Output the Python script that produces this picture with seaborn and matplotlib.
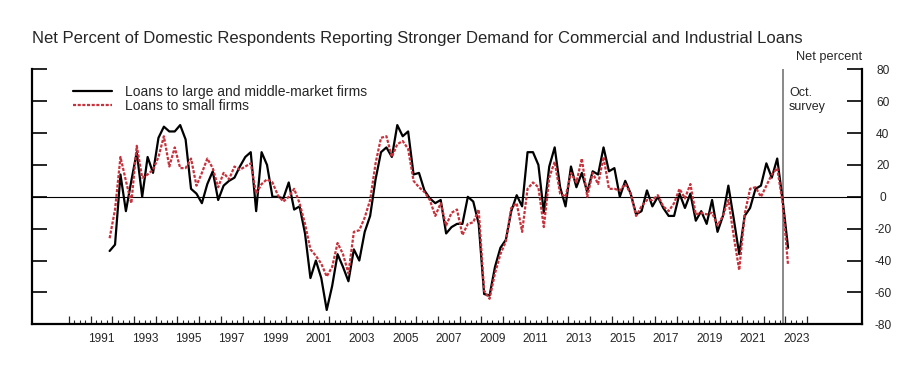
import matplotlib
matplotlib.use("Agg")
import matplotlib.pyplot as plt
import numpy as np
import pandas as pd
import seaborn as sns

# quarterly survey readings (net percent), 1991Q4 .. 2023Q1
large_firms = [
    -34, -30, 14, -9, 10, 28, 0, 25, 15, 37, 44, 41, 41, 45, 36, 5,
    2, -4, 8, 16, -2, 7, 10, 12, 19, 25, 28, -9, 28, 20, 0, 0,
    -1, 9, -8, -6, -23, -51, -40, -51, -71, -56, -36, -44, -53, -33, -40, -22,
    -12, 11, 28, 31, 25, 45, 38, 41, 14, 15, 4, -1, -4, -2, -23, -19,
    -17, -17, 0, -3, -17, -61, -62, -44, -32, -27, -9, 1, -6, 28, 28, 20,
    -10, 19, 31, 6, -6, 19, 6, 15, 3, 16, 14, 31, 16, 18, 0, 10,
    2, -11, -9, 4, -6, 0, -7, -12, -12, 2, -7, 2, -15, -9, -17, -2,
    -22, -12, 7, -14, -36, -12, -7, 5, 7, 21, 12, 24, -2, -32,
]
small_firms = [
    -26, -8, 25, 10, -4, 32, 12, 14, 17, 25, 38, 19, 31, 18, 18, 24,
    7, 15, 24, 18, 6, 15, 11, 19, 17, 19, 21, 2, 8, 11, 9, 1,
    -3, 0, 5, -4, -17, -33, -37, -42, -50, -44, -29, -36, -48, -22, -21, -13,
    -2, 21, 37, 38, 25, 33, 35, 30, 10, 6, 3, -2, -12, -4, -18, -10,
    -8, -24, -17, -16, -8, -59, -64, -48, -36, -28, -7, -4, -22, 5, 9, 6,
    -19, 12, 22, 2, 0, 15, 9, 24, 0, 15, 8, 25, 5, 5, 4, 8,
    2, -12, -6, -2, -2, 1, -6, -9, -4, 5, -1, 8, -11, -10, -11, -10,
    -18, -12, -2, -25, -46, -11, 5, 6, 0, 7, 14, 18, -4, -43,
]
series_names = ["Loans to large and middle-market firms", "Loans to small firms"]
year_labels = list(range(1991, 2024, 2))
y_ticks = list(range(-80, 81, 20))

quarters = pd.period_range("1991Q4", periods=len(large_firms), freq="Q")
x = np.asarray(quarters.year + (quarters.quarter - 1) / 4 + 0.125, dtype=float)
survey_mark = x[-2]  # October survey

df = pd.DataFrame({
    "date": np.concatenate([x, x]),
    "value": large_firms + small_firms,
    "series": [series_names[0]] * len(x) + [series_names[1]] * len(x),
})

sns.set_style("white")
plt.rcParams["font.family"] = ["Liberation Sans", "DejaVu Sans"]
plt.rcParams["axes.unicode_minus"] = False

fig = plt.figure(figsize=(9.22, 3.72), dpi=100)
ax = fig.add_axes([32 / 922, 1 - 324.3 / 372, 830 / 922, 255 / 372])

red = "#C8323C"
ax.axhline(0, color="black", lw=0.8, zorder=1)
ax.axvline(survey_mark, color="#808080", lw=1.3, zorder=1)

sns.lineplot(data=df, x="date", y="value", hue="series", style="series",
             palette={series_names[0]: "black", series_names[1]: red},
             dashes={series_names[0]: "", series_names[1]: (1.4, 0.7)},
             linewidth=1.6, ax=ax, zorder=3)

ax.set_xlim(1988.3, 2026.53)
ax.set_ylim(-80, 80)
ax.set_xlabel("")
ax.set_ylabel("")

# axes frame
ax.spines["top"].set_visible(False)
for side in ["left", "right", "bottom"]:
    ax.spines[side].set_linewidth(1.6)
    ax.spines[side].set_color("black")

ax.set_yticks(y_ticks)
ax.tick_params(axis="y", direction="in", left=True, right=True,
               labelleft=False, labelright=True, length=10.5, width=1.4,
               labelsize=8.6, pad=15)
for lab in ax.get_yticklabels():
    lab.set_horizontalalignment("center")

ax.set_xticks(list(range(1990, 2025)))
ax.set_xticks(np.arange(1990, 2024.01, 0.25), minor=True)
ax.tick_params(axis="x", which="major", direction="in", bottom=True,
               length=5.5, width=0.9, labelbottom=False)
ax.tick_params(axis="x", which="minor", direction="in", bottom=True,
               length=2.6, width=0.8)

sec = ax.secondary_xaxis("bottom")
sec.set_xticks([yr + 0.5 for yr in year_labels])
sec.set_xticklabels([str(yr) for yr in year_labels])
sec.tick_params(length=0, labelsize=8.6, pad=6)
sec.spines["bottom"].set_visible(False)

handles, labels = ax.get_legend_handles_labels()
ax.legend(handles, labels, loc="upper left", bbox_to_anchor=(0.049, 0.94),
          frameon=False, fontsize=10, handlelength=2.85, handletextpad=0.95,
          labelspacing=0.0, borderpad=0, borderaxespad=0)

ax.annotate("Oct.\nsurvey", xy=(survey_mark, 80), xytext=(4.5, -13),
            textcoords="offset points", ha="left", va="top", fontsize=9,
            linespacing=1.15)

fig.text(862 / 922, 1 - 60 / 372, "Net percent", ha="right", va="baseline",
         fontsize=9.2)
fig.text(32 / 922, 1 - 43 / 372,
         "Net Percent of Domestic Respondents Reporting Stronger Demand for "
         "Commercial and Industrial Loans",
         ha="left", va="baseline", fontsize=12)

fig.savefig("out.png", dpi=100)
plt.close(fig)
